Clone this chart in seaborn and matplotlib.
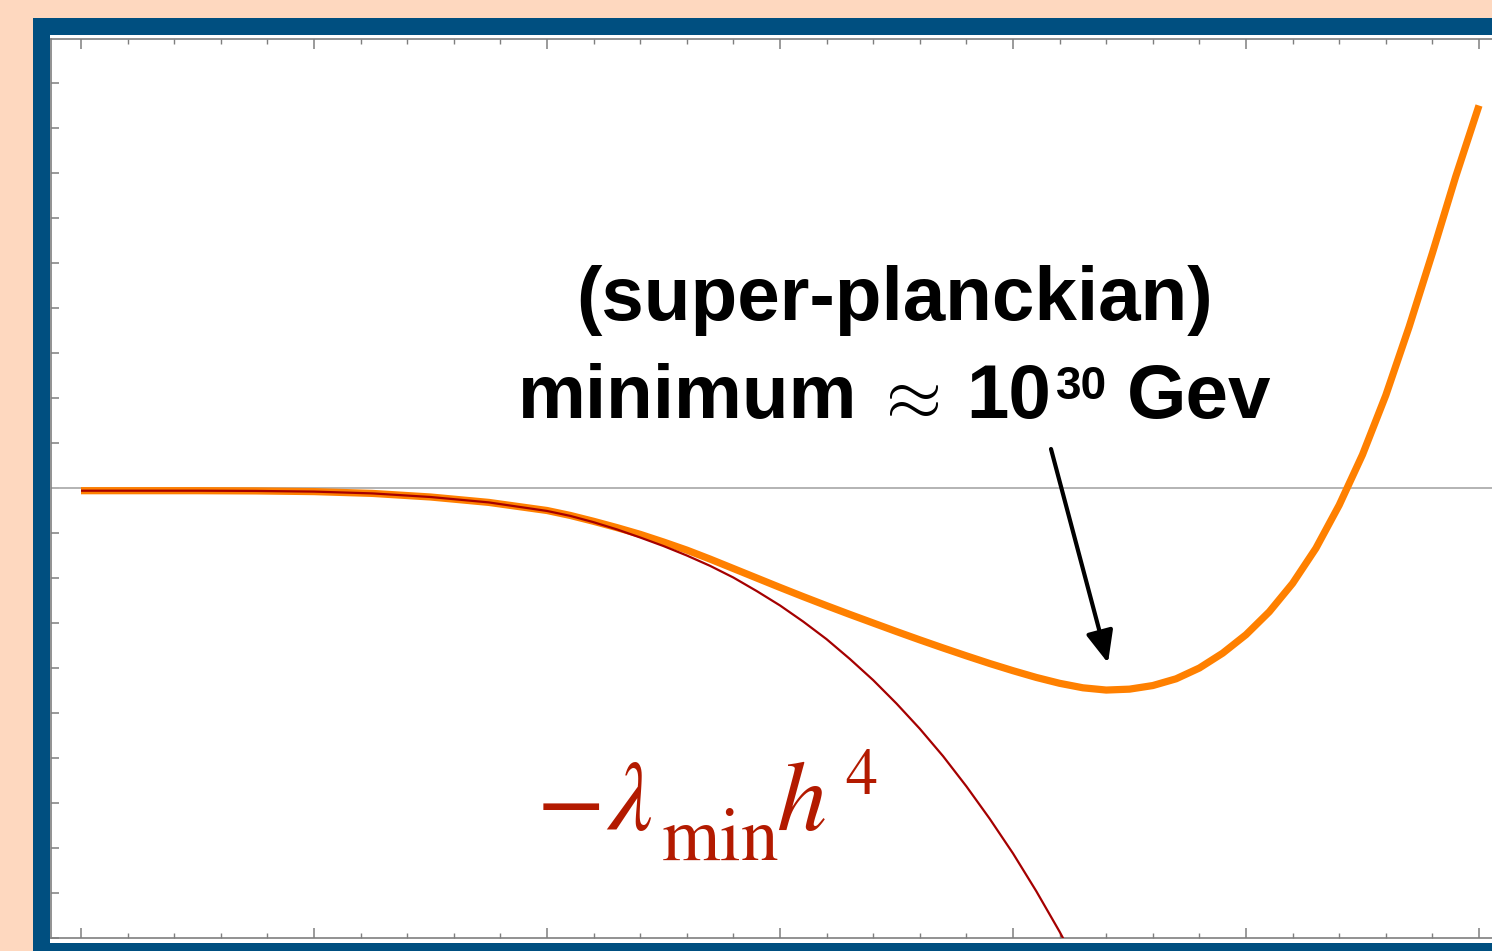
import matplotlib
matplotlib.use("Agg")
import matplotlib.pyplot as plt
from matplotlib.patches import Rectangle
from matplotlib.ticker import MultipleLocator
import seaborn as sns

# Field value h (arbitrary units) and potential V(h) of the full curve
h_full = [0.0, 0.25, 0.5, 0.75, 1.0, 1.25, 1.5, 1.75, 2.0, 2.1, 2.2, 2.3, 2.4,
          2.5, 2.6, 2.7, 2.8, 2.9, 3.0, 3.1, 3.2, 3.3, 3.4, 3.5, 3.6, 3.7, 3.8,
          3.9, 4.0, 4.1, 4.2, 4.3, 4.4, 4.5, 4.6, 4.7, 4.8, 4.9, 5.0, 5.1, 5.2,
          5.3, 5.4, 5.5, 5.6, 5.7, 5.8, 5.9, 6.0]
v_full = [-0.06, -0.06, -0.06, -0.065, -0.08, -0.12, -0.2, -0.32, -0.5, -0.61,
          -0.74, -0.88, -1.03, -1.2, -1.38, -1.58, -1.79, -2.0, -2.21, -2.415,
          -2.615, -2.81, -3.0, -3.19, -3.375, -3.555, -3.73, -3.9, -4.06, -4.21,
          -4.34, -4.44, -4.49, -4.47, -4.39, -4.24, -4.0, -3.67, -3.26, -2.75,
          -2.12, -1.34, -0.38, 0.74, 2.06, 3.58, 5.22, 6.92, 8.5]

# Pure quartic term  -lambda_min h^4
h_quartic = [0.0, 0.25, 0.5, 0.75, 1.0, 1.25, 1.5, 1.75, 2.0, 2.1, 2.2, 2.3,
             2.4, 2.5, 2.6, 2.7, 2.8, 2.9, 3.0, 3.1, 3.2, 3.3, 3.4, 3.5, 3.6,
             3.7, 3.8, 3.9, 4.0, 4.1, 4.2, 4.3]
v_quartic = [-0.06, -0.06, -0.06, -0.065, -0.08, -0.12, -0.2, -0.32, -0.51,
             -0.62, -0.76, -0.92, -1.1, -1.29, -1.5, -1.73, -1.99, -2.29, -2.61,
             -2.97, -3.36, -3.8, -4.27, -4.79, -5.35, -5.96, -6.63, -7.35,
             -8.12, -8.96, -9.86, -10.83]

W, H = 1492, 951
sns.set_style("white")

fig = plt.figure(figsize=(W / 100, H / 100), dpi=100)
fig.patch.set_facecolor("#FED8BF")

# Blue frame and white panel behind the axes
fig.patches.append(Rectangle((33 / W, -0.2), 1.2, 1.2 - 18 / H,
                             transform=fig.transFigure, facecolor="#004F80",
                             edgecolor="none", zorder=-2))
fig.patches.append(Rectangle((50 / W, 1 - 943 / H), 1.2, (943 - 35) / H,
                             transform=fig.transFigure, facecolor="white",
                             edgecolor="none", zorder=-1))

ax = fig.add_axes([51 / W, 1 - 938 / H, (1500 - 51) / W, (938 - 39) / H])
ax.set_facecolor("white")


def hx(px):
    """Horizontal pixel position -> h."""
    return (px - 81) / 233


def vy(py):
    """Vertical pixel position -> V."""
    return (488 - py) / 45


ax.set_xlim(hx(51), hx(1500))
ax.set_ylim(vy(938), vy(39))

ax.axhline(0, color="#B3B3B3", lw=1.4, zorder=1)

sns.lineplot(x=h_full, y=v_full, ax=ax, color="#FF8000", linewidth=5.2,
             solid_capstyle="butt", solid_joinstyle="round", zorder=3,
             sort=False)
sns.lineplot(x=h_quartic, y=v_quartic, ax=ax, color="#A50000", linewidth=1.6,
             solid_capstyle="butt", solid_joinstyle="round", zorder=4,
             sort=False)

# Ticks: inward, gray, on all sides
gray = "#7F7F7F"
for s in ax.spines.values():
    s.set_color(gray)
    s.set_linewidth(1.2)
ax.xaxis.set_major_locator(MultipleLocator(1))
ax.xaxis.set_minor_locator(MultipleLocator(0.2))
ax.yaxis.set_major_locator(MultipleLocator(1))
ax.tick_params(axis="x", which="major", direction="in", length=7.2, width=1.1,
               color=gray, top=True, bottom=True, labelbottom=False)
ax.tick_params(axis="x", which="minor", direction="in", length=3.4, width=1.0,
               color=gray, top=True, bottom=True)
ax.tick_params(axis="y", which="major", direction="in", length=5.4, width=1.1,
               color=gray, left=True, right=True, labelleft=False)
ax.set_xlabel("")
ax.set_ylabel("")

bold = dict(fontsize=55, fontweight="bold", family="Liberation Sans",
            color="black", va="baseline", zorder=5)

# Two-line note about the minimum
ax.text(hx(895), vy(320), "(super-planckian)", ha="center", **bold)
ax.text(hx(518), vy(418), "minimum", ha="left", **bold)
ax.text(hx(906), vy(418), r"$\approx$", ha="center", va="baseline",
        fontsize=52, color="black", math_fontfamily="cm", zorder=5)
ax.text(hx(966), vy(418), "10", ha="left", **bold)
ax.text(hx(1056), vy(399), "30", ha="left", va="baseline", fontsize=33,
        fontweight="bold", family="Liberation Sans", color="black", zorder=5)
ax.text(hx(1127), vy(418), "Gev", ha="left", **bold)

# Label of the quartic term
red = "#B31A00"
stix = dict(color=red, math_fontfamily="stix", ha="left", va="baseline",
            zorder=5)
ax.text(hx(536), vy(830), r"$-$", fontsize=72, **stix)
ax.text(hx(606), vy(830), r"$\lambda$", fontsize=72, **stix)
ax.text(hx(661), vy(860), r"$\mathrm{min}$", fontsize=54, **stix)
ax.text(hx(776), vy(830), r"$h$", fontsize=72, **stix)
ax.text(hx(845), vy(794), r"$4$", fontsize=46, **stix)

ax.annotate("", xy=(hx(1108), vy(663)), xytext=(hx(1051), vy(449)),
            arrowprops=dict(arrowstyle="-|>,head_length=1.0,head_width=0.43",
                            mutation_scale=19.4, lw=3, color="black",
                            shrinkA=0, shrinkB=0),
            zorder=6)

fig.savefig("out.png", dpi=100, facecolor=fig.get_facecolor())
